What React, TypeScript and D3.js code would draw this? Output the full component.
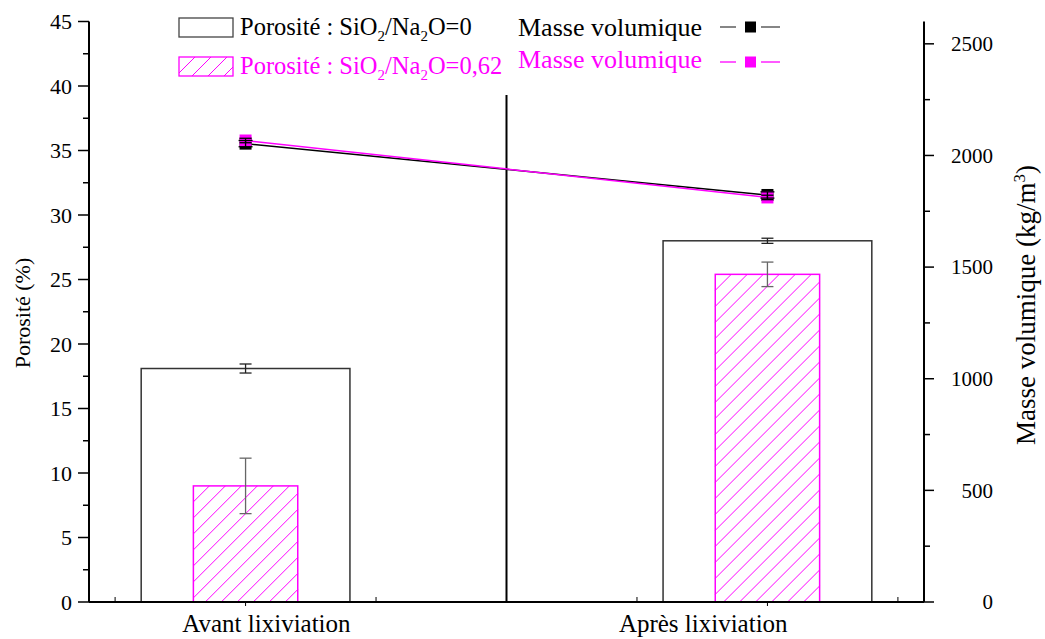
import React from "react";
import * as d3 from "d3";

const categories = ["Avant lixiviation", "Après lixiviation"];
const categoryPos = [1, 2];
const labelPos = [1.04, 1.877];
const porosite0 = [18.1, 28.0];
const porosite0Err = [0.35, 0.2];
const porosite62 = [9.0, 25.4];
const porosite62Err = [2.15, 0.95];
const masse0 = [2053, 1823];
const masse0Err = [14, 14];
const masse62 = [2067, 1812];
const masse62Err = [10, 10];
const leftTicks = d3.range(0, 46, 5);
const leftMinor = d3.range(2.5, 45, 5);
const rightTicks = d3.range(0, 2501, 500);
const rightMinor = d3.range(250, 2600, 500);
const xMinorTicks = [0.75, 1.25, 1.75, 2.25];
const dividerPos = 1.5;

const FONT = "Liberation Serif, Tinos, Times New Roman, DejaVu Serif, serif";
const MAG = "#ff00ff";

export default function App() {
  const W = 1045, H = 639;
  const x = d3.scaleLinear().domain([0.7, 2.3]).range([89, 924]);
  const yL = d3.scaleLinear().domain([0, 45]).range([602, 21.5]);
  const yR = d3.scaleLinear().domain([0, 2600]).range([602, 21.5]);
  const x0 = x(0.7), x1 = x(2.3), yb = yL(0), yt = yL(45);
  const wBlack = x(1.4) - x(1);
  const wMag = x(1.2) - x(1);
  const line = d3.line<[number, number]>().x(d => d[0]).y(d => d[1]);
  const pts0 = categoryPos.map((c, i) => [x(c), yR(masse0[i])] as [number, number]);
  const pts62 = categoryPos.map((c, i) => [x(c), yR(masse62[i])] as [number, number]);
  const ms = 12;
  const tf = { fontFamily: FONT };

  const hatchLines = (bx: number, by: number, bw: number, bh: number, key: string) => {
    const step = 16;
    const out: JSX.Element[] = [];
    for (let k = -bh; k < bw + step; k += step) {
      let xa = bx + k, ya = by + bh;
      let xb = xa + bh, yb2 = by;
      if (xa < bx) { ya -= (bx - xa); xa = bx; }
      if (xb > bx + bw) { yb2 += (xb - (bx + bw)); xb = bx + bw; }
      if (xb <= xa) continue;
      out.push(<line key={key + k} x1={xa} y1={ya} x2={xb} y2={yb2} style={{ stroke: MAG, strokeWidth: 1 }} />);
    }
    return <g>{out}</g>;
  };

  const errBar = (cx: number, ya: number, yb2: number, color: string, key: string, cap = 6) => (
    <g key={key} style={{ stroke: color, strokeWidth: 1.3 }}>
      <line x1={cx} x2={cx} y1={ya} y2={yb2} />
      <line x1={cx - cap} x2={cx + cap} y1={ya} y2={ya} />
      <line x1={cx - cap} x2={cx + cap} y1={yb2} y2={yb2} />
    </g>
  );

  return (
    <svg width={W} height={H} style={{ position: "absolute", left: 0, top: 0, background: "#fff", fontFamily: FONT }}>
      <rect width={W} height={H} fill="#fff" />

      {categoryPos.map((c, i) => (
        <rect key={"b0" + i} x={x(c) - wBlack / 2} y={yL(porosite0[i])} width={wBlack} height={yb - yL(porosite0[i])}
          style={{ fill: "#fff", stroke: "#333", strokeWidth: 1.5 }} />
      ))}
      {categoryPos.map((c, i) => (
        <g key={"b62" + i}>
          <rect x={x(c) - wMag / 2} y={yL(porosite62[i])} width={wMag} height={yb - yL(porosite62[i])}
            style={{ fill: "#fff", stroke: "none" }} />
          {hatchLines(x(c) - wMag / 2, yL(porosite62[i]), wMag, yb - yL(porosite62[i]), "h" + i)}
          <rect x={x(c) - wMag / 2} y={yL(porosite62[i])} width={wMag} height={yb - yL(porosite62[i])}
            style={{ fill: "none", stroke: MAG, strokeWidth: 1.5 }} />
        </g>
      ))}
      {categoryPos.map((c, i) => errBar(x(c), yL(porosite0[i] + porosite0Err[i]), yL(porosite0[i] - porosite0Err[i]), "#222", "e0" + i))}
      {categoryPos.map((c, i) => errBar(x(c), yL(porosite62[i] + porosite62Err[i]), yL(porosite62[i] - porosite62Err[i]), "#666", "e62" + i))}

      <line x1={x(dividerPos)} x2={x(dividerPos)} y1={95} y2={yb} stroke="#000" strokeWidth={2} />

      <path d={line(pts0) || ""} fill="none" stroke="#000" strokeWidth={1.5} />
      {pts0.map((p, i) => (
        <rect key={"m0" + i} x={p[0] - ms / 2} y={p[1] - ms / 2} width={ms} height={ms} fill="#000" />
      ))}
      <path d={line(pts62) || ""} fill="none" stroke={MAG} strokeWidth={1.5} />
      {pts62.map((p, i) => (
        <rect key={"m62" + i} x={p[0] - ms / 2} y={p[1] - ms / 2} width={ms} height={ms} fill={MAG} />
      ))}
      {categoryPos.map((c, i) => errBar(x(c), yR(masse0[i] + masse0Err[i]), yR(masse0[i] - masse0Err[i]), "#000", "em0" + i, 7))}
      {categoryPos.map((c, i) => errBar(x(c), yR(masse62[i] + masse62Err[i]), yR(masse62[i] - masse62Err[i]), "#000", "em62" + i, 6))}

      <line x1={x0} x2={x1} y1={yb} y2={yb} stroke="#000" strokeWidth={2} />
      <line x1={x0} x2={x0} y1={yt} y2={yb} stroke="#000" strokeWidth={2} />
      <line x1={x1} x2={x1} y1={yt} y2={yb} stroke="#000" strokeWidth={2} />

      {leftTicks.map(t => (
        <g key={"lt" + t}>
          <line x1={x0 - 11} x2={x0} y1={yL(t)} y2={yL(t)} stroke="#000" strokeWidth={1.5} />
          <text x={x0 - 17} y={yL(t)} dy="0.35em" textAnchor="end" fontSize={22} style={tf}>{t}</text>
        </g>
      ))}
      {leftMinor.map(t => (
        <line key={"lm" + t} x1={x0 - 6} x2={x0} y1={yL(t)} y2={yL(t)} stroke="#000" strokeWidth={1.5} />
      ))}
      {rightTicks.map(t => (
        <g key={"rt" + t}>
          <line x1={x1} x2={x1 + 10} y1={yR(t)} y2={yR(t)} stroke="#000" strokeWidth={1.5} />
          <text x={993} y={yR(t)} dy="0.35em" textAnchor="end" fontSize={21} style={tf}>{t}</text>
        </g>
      ))}
      {rightMinor.map(t => (
        <line key={"rm" + t} x1={x1} x2={x1 + 6} y1={yR(t)} y2={yR(t)} stroke="#000" strokeWidth={1.5} />
      ))}
      {xMinorTicks.map(t => (
        <line key={"xm" + t} x1={x(t)} x2={x(t)} y1={yb - 5} y2={yb} stroke="#000" strokeWidth={1} />
      ))}
      {categoryPos.map(t => (
        <line key={"xt" + t} x1={x(t)} x2={x(t)} y1={yb} y2={yb + 4} stroke="#000" strokeWidth={1} />
      ))}
      {categories.map((c, i) => (
        <text key={"cl" + i} x={x(labelPos[i])} y={632} textAnchor="middle" fontSize={25} style={tf}>{c}</text>
      ))}

      <text transform={`translate(30,${yL(22.4)}) rotate(-90)`} textAnchor="middle" fontSize={22} style={tf}>Porosité (%)</text>
      <text transform={`translate(1035,${yR(1330)}) rotate(-90)`} textAnchor="middle" fontSize={27} style={tf}>
        Masse volumique (kg/m<tspan dy={-10} fontSize={17}>3</tspan><tspan dy={10}>)</tspan>
      </text>

      <rect x={179} y={18} width={54} height={19} style={{ fill: "#fff", stroke: "#444", strokeWidth: 1.3 }} />
      <text x={240} y={35} fontSize={24.5} fill="#000" style={tf}>
        Porosité : SiO<tspan dy={6} fontSize={15}>2</tspan><tspan dy={-6}>/Na</tspan><tspan dy={6} fontSize={15}>2</tspan><tspan dy={-6}>O=0</tspan>
      </text>
      {hatchLines(179, 57, 54, 19, "lg")}
      <rect x={179} y={57} width={54} height={19} style={{ fill: "none", stroke: MAG, strokeWidth: 1.3 }} />
      <text x={240} y={74} fontSize={24.5} fill={MAG} style={tf}>
        Porosité : SiO<tspan dy={6} fontSize={15}>2</tspan><tspan dy={-6}>/Na</tspan><tspan dy={6} fontSize={15}>2</tspan><tspan dy={-6}>O=0,62</tspan>
      </text>

      <text x={518} y={36} fontSize={26} fill="#000" style={tf}>Masse volumique</text>
      <line x1={720} x2={736} y1={27} y2={27} stroke="#444" strokeWidth={1.3} />
      <line x1={761} x2={780} y1={27} y2={27} stroke="#444" strokeWidth={1.3} />
      <rect x={745} y={21.5} width={11} height={11} fill="#000" />
      <text x={518} y={68} fontSize={26} fill={MAG} style={tf}>Masse volumique</text>
      <line x1={720} x2={736} y1={62} y2={62} stroke={MAG} strokeWidth={1.3} />
      <line x1={761} x2={780} y1={62} y2={62} stroke={MAG} strokeWidth={1.3} />
      <rect x={745} y={56.5} width={11} height={11} fill={MAG} />
    </svg>
  );
}
